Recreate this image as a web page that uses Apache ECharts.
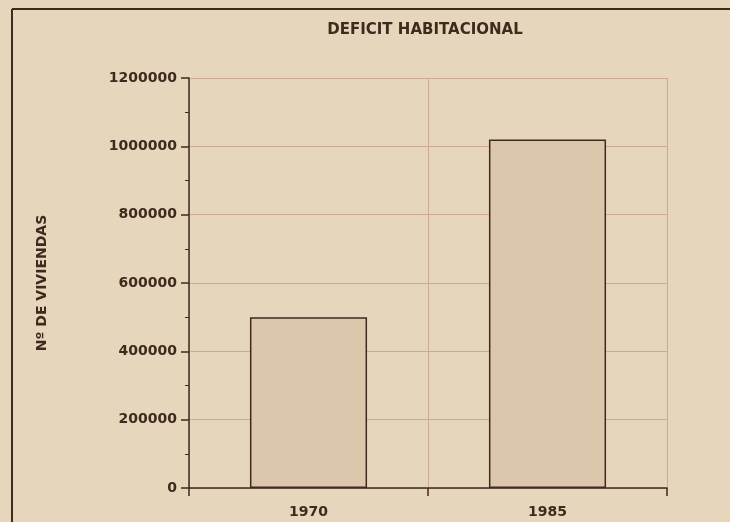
<!DOCTYPE html>
<html>
<head>
<meta charset="utf-8">
<script src="https://cdn.jsdelivr.net/npm/echarts@6/dist/echarts.min.js"></script>
<style>
  html, body { margin: 0; padding: 0; background: #e6d6bb; }
  #chart { width: 730px; height: 522px; }
</style>
</head>
<body>
<div id="chart"></div>
<script>
// data
var years = ['1970', '1985'];
var deficit = [500000, 1020000];
var yTicks = { min: 0, max: 1200000, step: 200000 };

var ink = '#3f2a1e';
var gridInk = '#cfa996';
var font = 'DejaVu Sans';

var myChart = echarts.init(document.getElementById('chart'));

var option = {
  backgroundColor: '#e6d6bb',
  animation: false,
  title: {
    text: 'DEFICIT HABITACIONAL',
    left: 420,
    top: 18,
    textAlign: 'center',
    textStyle: { fontFamily: font, fontWeight: 'bold', fontSize: 15, color: ink }
  },
  grid: { left: 189, right: 63, top: 78, bottom: 34 },
  xAxis: {
    type: 'category',
    data: years,
    axisLine: { lineStyle: { color: ink, width: 1.5 } },
    axisTick: { show: true, length: 8, lineStyle: { color: ink, width: 1.5 } },
    splitLine: { show: true, lineStyle: { color: gridInk, width: 1 } },
    axisLabel: { margin: 17, fontFamily: font, fontWeight: 'bold', fontSize: 14, color: ink }
  },
  yAxis: {
    type: 'value',
    min: yTicks.min,
    max: yTicks.max,
    interval: yTicks.step,
    name: 'Nº DE VIVIENDAS',
    nameLocation: 'middle',
    nameGap: 140,
    nameRotate: 90,
    nameTextStyle: { fontFamily: font, fontWeight: 'bold', fontSize: 14, color: ink },
    axisLine: { show: true, lineStyle: { color: ink, width: 1.5 } },
    axisTick: { show: true, length: 8, lineStyle: { color: ink, width: 1.5 } },
    minorTick: { show: true, splitNumber: 2, length: 4, lineStyle: { color: ink } },
    splitLine: { show: true, lineStyle: { color: gridInk, width: 1 } },
    axisLabel: {
      margin: 12, fontFamily: font, fontWeight: 'bold', fontSize: 14, color: ink,
      formatter: function (v) { return String(v); }
    }
  },
  series: [{
    type: 'bar',
    data: deficit,
    barWidth: '49%',
    itemStyle: { color: '#dcc6ac', borderColor: ink, borderWidth: 1.5 }
  }],
  graphic: [
    { type: 'line', shape: { x1: 12, y1: 9, x2: 730, y2: 9 }, style: { stroke: ink, lineWidth: 2 } },
    { type: 'line', shape: { x1: 12, y1: 9, x2: 12, y2: 522 }, style: { stroke: ink, lineWidth: 2 } }
  ]
};

myChart.setOption(option);
</script>
</body>
</html>
